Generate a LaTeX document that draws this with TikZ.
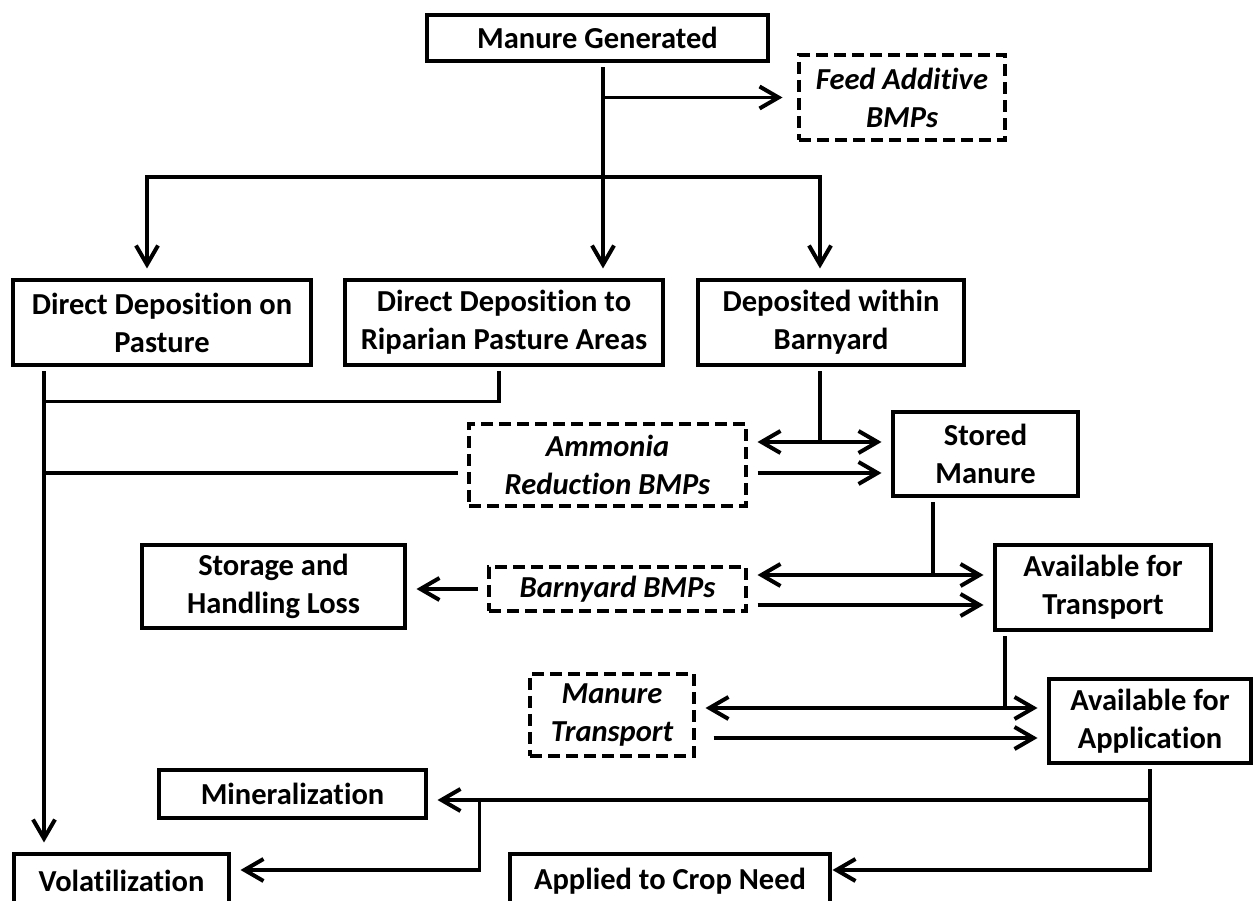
\documentclass[tikz,border=0pt]{standalone}
\usepackage{fontspec}
\setmainfont[Ligatures=NoCommon]{Carlito}
\usetikzlibrary{arrows.meta}

\begin{document}
\begin{tikzpicture}[
  x=1pt,y=1pt,
  font=\fontsize{30.5}{38}\selectfont\bfseries,
  box/.style={draw,line width=3.5pt,align=center,inner sep=0pt,outer sep=6.5pt},
  bmp/.style={box,dash pattern=on 12pt off 6pt,outer sep=11.5pt,font=\fontsize{30.5}{38}\selectfont\bfseries\itshape},
  link/.style={line width=3.5pt},
  flow/.style={link,-{Straight Barb[length=19pt,width=22pt,line width=4pt]},shorten >=5pt},
  both/.style={flow,{Straight Barb[length=19pt,width=22pt,line width=4pt]}-{Straight Barb[length=19pt,width=22pt,line width=4pt]}},
]
  \path[use as bounding box,fill=white] (0,0) rectangle (1255,901);

  \node[box,minimum width=341pt,minimum height=46pt] (gen) at (597.5,863) {Manure Generated};
  \node[bmp,minimum width=206pt,minimum height=85pt] (feed) at (902,803.5) {Feed Additive\\BMPs};
  \node[box,minimum width=298pt,minimum height=85pt] (past) at (162,578.5) {Direct Deposition on\\Pasture};
  \node[box,minimum width=318pt,minimum height=85pt] (ripa) at (504,578.5) {Direct Deposition to\\Riparian Pasture Areas};
  \node[box,minimum width=266pt,minimum height=85pt] (barn) at (831,578.5) {Deposited within\\Barnyard};
  \node[bmp,minimum width=277pt,minimum height=82pt] (ammo) at (607.5,436) {Ammonia\\Reduction BMPs};
  \node[box,minimum width=185pt,minimum height=84pt] (stor) at (985.5,447) {Stored\\Manure};
  \node[box,minimum width=263pt,minimum height=83pt] (loss) at (273.5,314.5) {Storage and\\Handling Loss};
  \node[bmp,minimum width=257pt,minimum height=44pt] (byd) at (617.5,312) {Barnyard BMPs};
  \node[box,minimum width=216pt,minimum height=85pt] (trans) at (1103,313.5) {Available for\\Transport};
  \node[bmp,minimum width=164pt,minimum height=82pt] (mtr) at (612,186) {Manure\\Transport};
  \node[box,minimum width=202pt,minimum height=84pt] (appl) at (1150,180) {Available for\\Application};
  \node[box,minimum width=267pt,minimum height=48pt] (mine) at (292.5,107) {Mineralization};
  \node[box,minimum width=215pt,minimum height=54pt] (vola) at (121.5,20) {Volatilization};
  \node[box,minimum width=320pt,minimum height=54pt] (crop) at (670,20) {Applied to Crop Need};

  \coordinate (trunk) at ([xshift=5.5pt]gen.south);
  \coordinate (fork) at (603,724);
  \coordinate (spine) at ([xshift=-118pt]past.south);
  \coordinate (ammoin) at ([yshift=-8pt]ammo.west);
  \coordinate (storin) at ([yshift=12pt]stor.west);
  \coordinate (transin) at ([yshift=12.5pt]trans.west);
  \coordinate (bydout) at ([yshift=-16pt]byd.east);
  \coordinate (applin) at ([yshift=13pt]appl.west);
  \coordinate (mtrout) at ([yshift=-23pt]mtr.east);
  \coordinate (minein) at ([yshift=-6pt]mine.east);
  \coordinate (split) at ([xshift=47pt]minein);
  \coordinate (volain) at ([yshift=11pt]vola.east);
  \coordinate (cropin) at ([yshift=11pt]crop.east);

  \draw[flow] (trunk) -- (trunk |- ripa.north);
  \draw[flow] (trunk |- feed.west) -- (feed.west);
  \draw[flow] (fork) -| ([xshift=-15pt]past.north);
  \draw[flow] (fork) -| ([xshift=-11pt]barn.north);

  \draw[flow] (spine) -- (spine |- vola.north);
  \draw[link] ([xshift=-5pt]ripa.south) -- ++(0,-30) -| (spine);
  \draw[link] (ammoin) -- (ammoin -| spine);

  \draw[link] ([xshift=-11pt]barn.south) -- ++(0,-70);
  \draw[both] (storin -| ammo.east) -- (storin);
  \draw[flow] (ammoin -| ammo.east) -- (ammoin -| stor.west);

  \draw[link] ([xshift=-52.5pt]stor.south) -- ++(0,-72);
  \draw[both] (transin -| byd.east) -- (transin);
  \draw[flow] (bydout) -- (bydout -| trans.west);
  \draw[flow] (byd.west) -- (loss.east |- byd.west);

  \draw[link] ([xshift=-98pt]trans.south) -- ++(0,-70);
  \draw[both] (applin -| mtr.east) -- (applin);
  \draw[flow,shorten <=8pt] (mtrout) -- (mtrout -| appl.west);

  \draw[flow] (appl.south) |- (minein);
  \draw[flow,shorten >=-4pt] (appl.south) |- (cropin);
  \draw[flow] (split) |- (volain);
\end{tikzpicture}
\end{document}
